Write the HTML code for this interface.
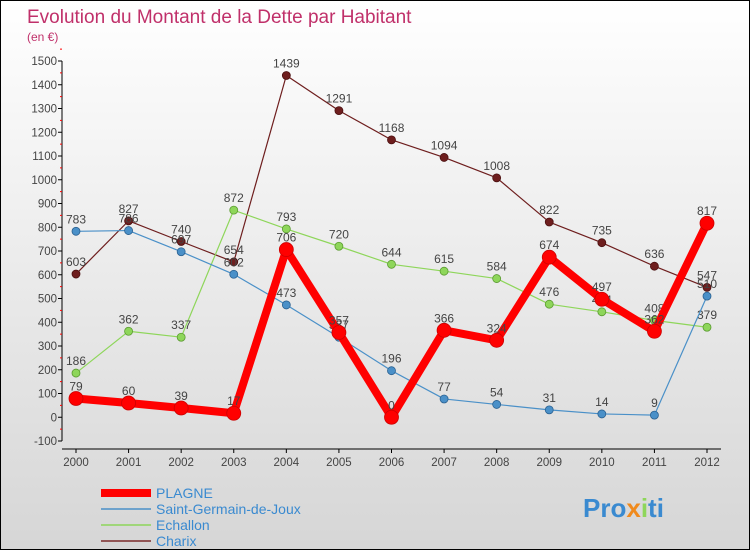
<!DOCTYPE html>
<html><head><meta charset="utf-8"><style>
body{margin:0}
#c{width:748px;height:548px;border:1px solid #000;background:linear-gradient(#fff,#d6d6d6);position:relative;font-family:"Liberation Sans",sans-serif;overflow:hidden}
</style></head><body>
<div id="c">
<svg id="s" width="748" height="548" xmlns="http://www.w3.org/2000/svg">
<text x="26" y="22" font-size="19" fill="#c0306a">Evolution du Montant de la Dette par Habitant</text>
<text x="26" y="40" font-size="12" fill="#c0306a">(en €)</text>
<g id="axes"></g><g id="series"></g>
<g>
<line x1="100" y1="492" x2="150" y2="492" stroke="#f00" stroke-width="8"/>
<text x="155" y="497" font-size="14" fill="#3a8ad0">PLAGNE</text>
<line x1="100" y1="508" x2="150" y2="508" stroke="#4a90c8" stroke-width="1.5"/>
<text x="155" y="513" font-size="14" fill="#3a8ad0">Saint-Germain-de-Joux</text>
<line x1="100" y1="524" x2="150" y2="524" stroke="#8ed65a" stroke-width="1.5"/>
<text x="155" y="529" font-size="14" fill="#3a8ad0">Echallon</text>
<line x1="100" y1="540" x2="150" y2="540" stroke="#7a2a2a" stroke-width="1.5"/>
<text x="155" y="545" font-size="14" fill="#3a8ad0">Charix</text>
</g>
<text x="582" y="516" font-size="26" font-weight="bold" fill="#3a8ad0">Pro<tspan fill="#f08a1c">x</tspan><tspan fill="#8ed65a">i</tspan>ti</text>
</svg>
</div>
<script>
const years=[2000,2001,2002,2003,2004,2005,2006,2007,2008,2009,2010,2011,2012];
const yTicks=[-100,0,100,200,300,400,500,600,700,800,900,1000,1100,1200,1300,1400,1500];
const plagne=[79,60,39,17,706,357,0,366,324,674,497,362,817];
const stGermain=[783,786,697,602,473,337,196,77,54,31,14,9,510];
const echallon=[186,362,337,872,793,720,644,615,584,476,444,408,379];
const charix=[603,827,740,654,1439,1291,1168,1094,1008,822,735,636,547];
const NS="http://www.w3.org/2000/svg";
const x=i=>75+i*(706-75)/(years.length-1);
const y=v=>416.25-v*0.2375;
function mk(t,a,p){const e=document.createElementNS(NS,t);for(const k in a)e.setAttribute(k,a[k]);p.appendChild(e);return e;}
const ax=document.getElementById('axes');
const yl=mk('line',{x1:61,y1:y(1500),x2:61,y2:y(-100),stroke:'#000'},ax);


yTicks.forEach(v=>{
 mk('line',{x1:57,y1:y(v),x2:61,y2:y(v),stroke:'#000'},ax);
 mk('line',{x1:59,y1:y(v+50),x2:61,y2:y(v+50),stroke:'#f00'},ax);
 const t=mk('text',{x:56,y:y(v)+4,'font-size':11.5,fill:'#444','text-anchor':'end'},ax);t.textContent=v;
 
 
});
const xl=mk('line',{x1:61,y1:y(-100)+8,x2:720,y2:y(-100)+8,stroke:'#000'},ax);


years.forEach((yr,i)=>{
 mk('line',{x1:x(i),y1:y(-100)+8,x2:x(i),y2:y(-100)+12,stroke:'#000'},ax);
 const t=mk('text',{x:x(i),y:y(-100)+25,'font-size':11.5,fill:'#444','text-anchor':'middle'},ax);t.textContent=yr;
 
 
});
const sg=document.getElementById('series');
function draw(vals,color,w,r,name,stroke){
 const g=mk('g',{},sg);
 
 
 mk('polyline',{points:vals.map((v,i)=>x(i)+','+y(v)).join(' '),fill:'none',stroke:color,'stroke-width':w,'stroke-linejoin':'round'},g);
 vals.forEach((v,i)=>{
  const c=mk('circle',{cx:x(i),cy:y(v),r:r,fill:color,stroke:stroke,'stroke-width':0.8},g);
  
  
  const t=mk('text',{x:x(i),y:y(v)-8,'font-size':12,fill:'#444','text-anchor':'middle'},g);t.textContent=v;
  
  
 });
}
draw(charix,'#6e1e1e',1.2,4,'charix','#4a1010');
draw(echallon,'#8ed65a',1.2,4,'echallon','#5a9a30');
draw(stGermain,'#4a90c8',1.2,4,'saint-germain','#2a6090');
draw(plagne,'#f00',8,7,'plagne','#c00');
</script>
</body></html>
